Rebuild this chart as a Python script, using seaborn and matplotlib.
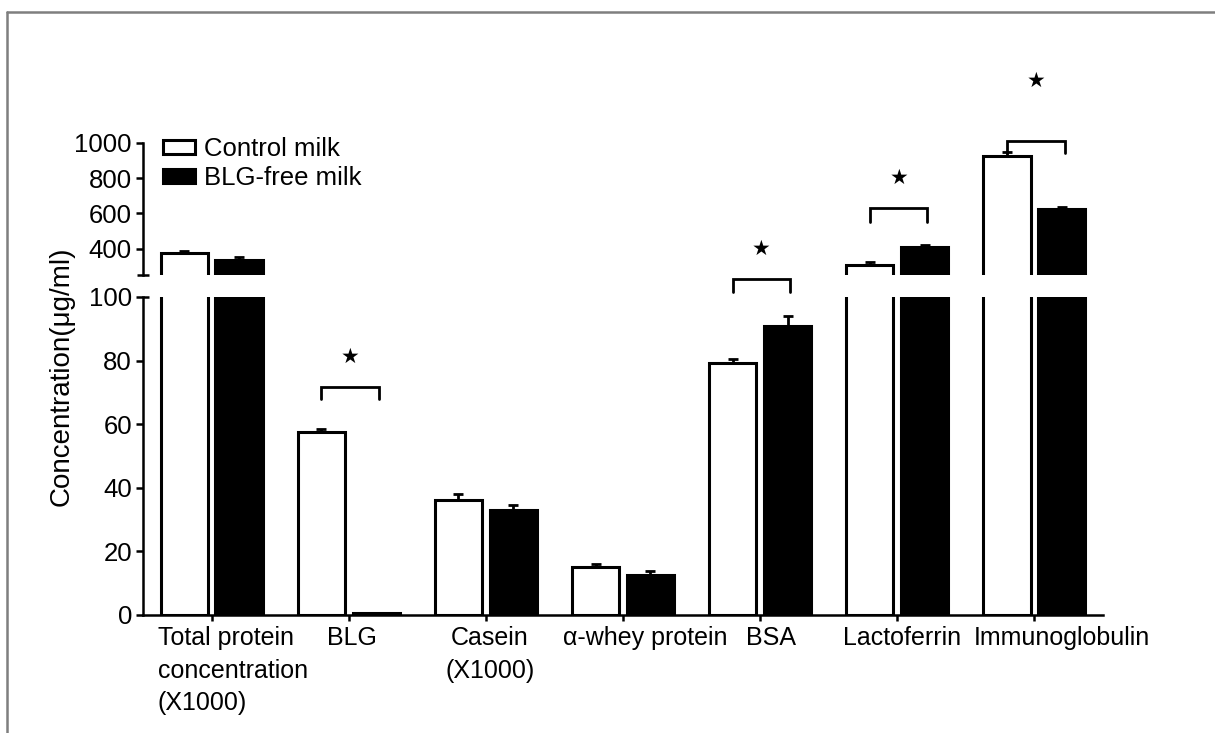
import numpy as np
import pandas as pd
import matplotlib
matplotlib.use("Agg")
import matplotlib.pyplot as plt
from matplotlib.lines import Line2D
from matplotlib.patches import Patch
from matplotlib.transforms import ScaledTranslation
import seaborn as sns

# ---------------- data ----------------
categories = ["Total protein\nconcentration\n(X1000)", "BLG", "Casein\n(X1000)",
              "α-whey protein", "BSA", "Lactoferrin", "Immunoglobulin"]
groups = ["Control milk", "BLG-free milk"]
control = [373, 57.5, 36.2, 15.2, 79.2, 307, 925]
control_err = [15, 1.0, 2.0, 0.8, 1.3, 17, 25]
blg_free = [338, 0.5, 33.0, 12.6, 90.9, 407, 623]
blg_free_err = [12, 0.2, 1.7, 1.2, 3.1, 13, 15]

# significance marks: (category index, bracket top, leg bottom, star y)
sig_lower = [(1, 71.8, 67.8, 81.2), (4, 105.7, 101.6, 115.1)]
sig_upper = [(5, 631, 551, 801), (6, 1011, 943, 1350)]

df = pd.DataFrame({
    "category": categories * 2,
    "group": [groups[0]] * len(categories) + [groups[1]] * len(categories),
    "value": control + blg_free,
})

# ---------------- style ----------------
sns.set_theme(style="ticks", rc={
    "axes.edgecolor": "black", "axes.linewidth": 1.8,
    "xtick.color": "black", "ytick.color": "black",
    "text.color": "black", "axes.labelcolor": "black",
    "xtick.major.width": 1.8, "ytick.major.width": 1.8,
})
plt.rcParams["font.family"] = ["Liberation Sans", "DejaVu Sans"]

W, H = 1215, 733
fig = plt.figure(figsize=(W / 100, H / 100), dpi=100)
ax_lo = fig.add_axes([143 / W, 1 - 615 / H, 960 / W, (615 - 297) / H])
ax_hi = fig.add_axes([143 / W, 1 - 275 / H, 960 / W, (275 - 143) / H])

palette = {groups[0]: "white", groups[1]: "black"}
errs = {groups[0]: control_err, groups[1]: blg_free_err}
vals = {groups[0]: control, groups[1]: blg_free}

for ax in (ax_lo, ax_hi):
    ax.patch.set_visible(False)
    sns.barplot(data=df, x="category", y="value", hue="group", order=categories,
                hue_order=groups, palette=palette, edgecolor="black", linewidth=2.2,
                errorbar=None, gap=0.14, width=0.8, legend=False, ax=ax)
    patches = ax.patches
    n = len(categories)
    for j, g in enumerate(groups):
        xs = [p.get_x() + p.get_width() / 2 for p in patches[j * n:(j + 1) * n]]
        ax.errorbar(xs, vals[g], yerr=[np.zeros(n), errs[g]], fmt="none",
                    ecolor="black", elinewidth=2, capsize=3.6, capthick=2, zorder=1)
    ax.set_xlim(-0.5, len(categories) - 0.5)
    ax.set_xlabel("")
    ax.set_ylabel("")
    ax.spines["top"].set_visible(False)
    ax.spines["right"].set_visible(False)

ax_lo.set_ylim(0, 100)
ax_lo.set_yticks([0, 20, 40, 60, 80, 100])
ax_lo.tick_params(axis="y", length=5, width=1.8, labelsize=18.5, pad=3)
ax_lo.tick_params(axis="x", length=4, width=1.8, labelsize=18, pad=4)

# x label placement (as in the reference)
label_dx = [21, 3, 4, 22, 11, 5, 27]
for lab, dx in zip(ax_lo.get_xticklabels(), label_dx):
    lab.set_transform(lab.get_transform() + ScaledTranslation(dx / 100, 0, fig.dpi_scale_trans))
    lab.set_linespacing(1.45)
ax_lo.get_xticklabels()[0].set_multialignment("left")

ax_hi.set_ylim(250, 1000)
ax_hi.set_yticks([400, 600, 800, 1000])
ax_hi.tick_params(axis="y", length=5, width=1.8, labelsize=18.5, pad=3)
ax_hi.spines["bottom"].set_visible(False)
ax_hi.set_xticks([])

# break caps
ax_hi.plot([-0.0065, 0.0065], [0, 0], transform=ax_hi.transAxes, color="black",
           lw=1.8, clip_on=False, solid_capstyle="butt")
ax_lo.plot([0, 0.0065], [1, 1], transform=ax_lo.transAxes, color="black",
           lw=1.8, clip_on=False, solid_capstyle="butt")

# significance brackets
def bracket(ax, i, ytop, yleg, ystar):
    x0, x1 = i - 0.2, i + 0.22
    ax.plot([x0, x0, x1, x1], [yleg, ytop, ytop, yleg], color="black", lw=2,
            clip_on=False, solid_joinstyle="miter")
    ax.text((x0 + x1) / 2, ystar, "★", ha="center", va="center", fontsize=15,
            family="DejaVu Sans", clip_on=False)

for i, yt, yl, ys in sig_lower:
    bracket(ax_lo, i, yt, yl, ys)
for i, yt, yl, ys in sig_upper:
    bracket(ax_hi, i, yt, yl, ys)

# legend
handles = [Patch(facecolor="white", edgecolor="black", linewidth=2.2, label=groups[0]),
           Patch(facecolor="black", edgecolor="black", linewidth=2.2, label=groups[1])]
fig.legend(handles=handles, loc="upper left", bbox_to_anchor=(153 / W, 1 - 127 / H),
           frameon=False, fontsize=18.5, handlelength=1.25, handleheight=0.48,
           handletextpad=0.35, labelspacing=0.2, borderaxespad=0)

# y label
fig.text(62 / W, 1 - 376 / H, "Concentration(μg/ml)", rotation=90, ha="center",
         va="center", fontsize=20)

# frame lines (left and top)
fig.add_artist(Line2D([7 / W, 7 / W], [0, 1 - 12 / H], transform=fig.transFigure,
                      color="#7f7f7f", lw=1.8))
fig.add_artist(Line2D([7 / W, 1], [1 - 12 / H, 1 - 12 / H], transform=fig.transFigure,
                      color="#7f7f7f", lw=1.8))

fig.savefig("out.png", dpi=100)
